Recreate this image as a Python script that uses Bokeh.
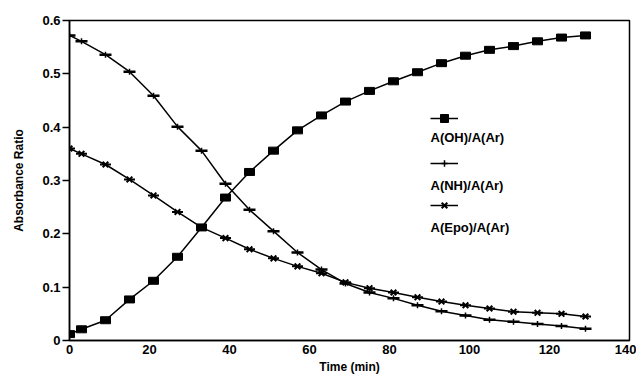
from bokeh.plotting import figure
from bokeh.models import ColumnDataSource, FixedTicker, Legend, LegendItem, Label, Range1d
from bokeh.embed import file_html
from bokeh.resources import INLINE

# ---- data ----
time_min = [0, 3, 9, 15, 21, 27, 33, 39, 45, 51, 57, 63, 69, 75, 81, 87, 93, 99, 105, 111, 117, 123, 129]
oh_ratio = [0.012, 0.021, 0.038, 0.077, 0.112, 0.157, 0.212, 0.268, 0.316, 0.356, 0.394, 0.422,
            0.448, 0.468, 0.486, 0.503, 0.520, 0.534, 0.545, 0.552, 0.561, 0.568, 0.572]
nh_ratio = [0.572, 0.561, 0.536, 0.504, 0.459, 0.401, 0.356, 0.294, 0.245, 0.205, 0.165, 0.133,
            0.107, 0.090, 0.079, 0.066, 0.055, 0.047, 0.039, 0.035, 0.031, 0.027, 0.022]
epo_ratio = [0.360, 0.350, 0.330, 0.302, 0.272, 0.241, 0.212, 0.192, 0.171, 0.154, 0.139, 0.126,
             0.109, 0.098, 0.090, 0.081, 0.073, 0.066, 0.060, 0.054, 0.052, 0.050, 0.045]
series_labels = ["A(OH)/A(Ar)", "A(NH)/A(Ar)", "A(Epo)/A(Ar)"]
x_ticks = [0, 20, 40, 60, 80, 100, 120, 140]
y_ticks = [0, 0.1, 0.2, 0.3, 0.4, 0.5, 0.6]
y_tick_labels = ["0", "0.1", "0.2", "0.3", "0.4", "0.5", "0.6"]
x_title = "Time (min)"
y_title = "Absorbance Ratio"

FONT = "Liberation Sans"

src = ColumnDataSource(dict(t=time_min, oh=oh_ratio, nh=nh_ratio, epo=epo_ratio))

p = figure(width=636, height=376, output_backend="svg", toolbar_location=None,
           x_range=Range1d(0, 140), y_range=Range1d(0, 0.6),
           min_border_left=69, min_border_right=7, min_border_top=20, min_border_bottom=36)
p.grid.visible = False
p.background_fill_color = "white"
p.border_fill_color = "white"
p.outline_line_color = "black"
p.outline_line_width = 1.5

for ax in (p.xaxis[0], p.yaxis[0]):
    ax.axis_line_color = "black"
    ax.axis_line_width = 1.5
    ax.major_tick_line_color = "black"
    ax.major_tick_line_width = 1.5
    ax.minor_tick_line_color = None
    ax.major_label_text_font = FONT
    ax.major_label_text_font_style = "bold"
    ax.major_label_text_font_size = "13px"
    ax.major_label_text_color = "black"
    ax.axis_label_text_font = FONT
    ax.axis_label_text_font_style = "bold"
    ax.axis_label_text_font_size = "12px"
    ax.axis_label_text_color = "black"

p.xaxis.ticker = FixedTicker(ticks=x_ticks)
p.xaxis.major_tick_out = 0
p.xaxis.major_tick_in = 0
p.xaxis.major_label_standoff = 4
p.xaxis.axis_label = x_title
p.xaxis.axis_label_standoff = 3

p.yaxis.ticker = FixedTicker(ticks=y_ticks)
p.yaxis.major_label_overrides = dict(zip(y_ticks, y_tick_labels))
p.yaxis.major_tick_out = 7
p.yaxis.major_tick_in = 0
p.yaxis.major_label_standoff = 2
p.yaxis.axis_label = y_title
p.yaxis.axis_label_standoff = 13

# OH series: filled rectangles
oh_line = p.line("t", "oh", source=src, line_color="black", line_width=1.5)
p.rect("t", "oh", width=10, height=7, width_units="screen", height_units="screen",
       source=src, fill_color="black", line_color="black")
oh_leg = p.scatter("t", "oh", source=src, marker="square", size=8, color="black", visible=False)

# NH series: horizontal bar with small vertical tick
nh_line = p.line("t", "nh", source=src, line_color="black", line_width=1.5)
nh_dash = p.scatter("t", "nh", source=src, marker="dash", size=12, line_color="black", line_width=2.5)
nh_tick = p.scatter("t", "nh", source=src, marker="cross", size=6,
                    line_color="black", line_width=1.5)

# Epo series: bow-tie like marker
epo_line = p.line("t", "epo", source=src, line_color="black", line_width=1.5)
epo_x = p.scatter("t", "epo", source=src, marker="x", size=8, line_color="black", line_width=2)
epo_dash = p.scatter("t", "epo", source=src, marker="dash", size=11, line_color="black", line_width=2)

legend_specs = [
    ([oh_line, oh_leg], 20, 212),
    ([nh_line, nh_tick], 16, 169),
    ([epo_line, epo_x], 20, 125),
]
for rends, gh, vy in legend_specs:
    leg = Legend(items=[LegendItem(label=" ", renderers=rends)], location=(361, vy),
                 padding=0, margin=0, spacing=0, glyph_width=28, glyph_height=gh,
                 label_height=gh, label_standoff=0, label_text_font_size="1px",
                 border_line_color=None, background_fill_alpha=0)
    p.add_layout(leg)

for text, ly in zip(series_labels, [203, 155, 113]):
    p.add_layout(Label(x=361, y=ly, x_units="screen", y_units="screen", text=text,
                       text_font=FONT, text_font_style="bold", text_font_size="13px",
                       text_baseline="middle", text_color="black"))

open("out.html", "w").write(file_html(p, INLINE))
